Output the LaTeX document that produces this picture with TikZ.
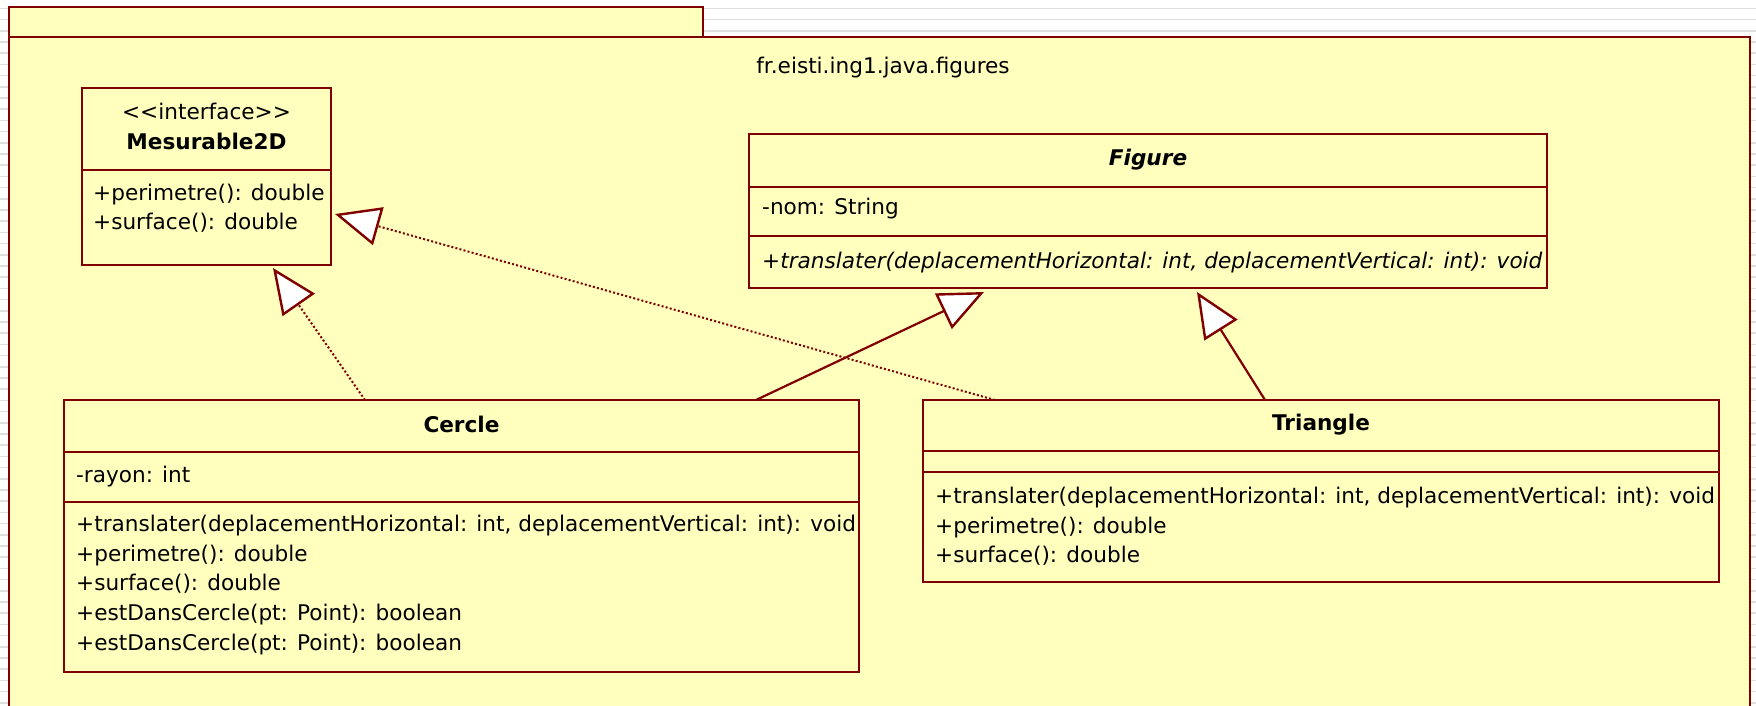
\documentclass[tikz,border=0pt]{standalone}
\usepackage{fontspec}
\setmainfont{DejaVu Sans}
\usetikzlibrary{arrows.meta}
\definecolor{umlfill}{RGB}{255,255,190}
\definecolor{umlline}{RGB}{128,0,0}
\definecolor{gridline}{RGB}{222,222,222}
\begin{document}
\begin{tikzpicture}[x=1pt,y=-1pt,
  box/.style={draw=umlline, fill=umlfill, line width=2.6pt, inner sep=0pt, outer sep=0pt, anchor=north west},
  sep/.style={draw=umlline, line width=2.4pt},
  txt/.style={inner sep=0pt, font=\fontsize{21.6}{26}\selectfont, anchor=west, text height=16pt, text depth=5pt},
  ttl/.style={txt, anchor=center, font=\fontsize{21.6}{26}\selectfont\bfseries},
  tip/.style={-{Triangle[length=45pt,width=39pt,fill=white,line width=2.4pt]}},
  real/.style={draw=umlline, line width=2pt, dash pattern=on 2pt off 2.2pt, tip},
  gen/.style={draw=umlline, line width=2.2pt, tip}
]
\useasboundingbox (0,0) rectangle (1756,705);
\clip (0,0) rectangle (1756,705);

% ruled background
\fill[white] (0,0) rectangle (1756,705);
\foreach \k in {0,...,63}
  \draw[gridline, line width=1.6pt] (0,{8.3+11.2*\k}) -- (1756,{8.3+11.2*\k});

% package frame
\node[box, minimum width=694pt, minimum height=30pt] (tab) at (9,7) {};
\node[box, minimum width=1741pt, minimum height=700pt] (pkg) at (9,37) {};
\node[txt, anchor=center] (pkgname) at (883,68) {fr.eisti.ing1.java.figures};

% interface Mesurable2D
\node[box, minimum width=249pt, minimum height=177pt] (mes) at (82,88) {};
\draw[sep] ([yshift=-82pt]mes.north west) -- ([yshift=-82pt]mes.north east);
\node[txt, anchor=center] (mesStereo) at (206.5,114) {<\kern0pt<interface>\kern0pt>};
\node[ttl] (mesName) at (206.5,144) {Mesurable2D};
\node[txt] (mesOpA) at (93,195) {+perimetre(): double};
\node[txt] (mesOpB) at (93,224) {+surface(): double};

% abstract class Figure
\node[box, minimum width=798pt, minimum height=154pt] (fig) at (749,134) {};
\draw[sep] ([yshift=-53pt]fig.north west) -- ([yshift=-53pt]fig.north east);
\draw[sep] ([yshift=-102pt]fig.north west) -- ([yshift=-102pt]fig.north east);
\node[ttl, font=\fontsize{21.6}{26}\selectfont\bfseries\itshape] (figName) at (1148,160) {Figure};
\node[txt] (figAttr) at (762,209) {-nom: String};
\node[txt, font=\fontsize{21.6}{26}\selectfont\itshape] (figOp) at (762,263) {+translater(deplacementHorizontal: int, deplacementVertical: int): void};

% class Cercle
\node[box, minimum width=795pt, minimum height=272pt] (cer) at (64,400) {};
\draw[sep] ([yshift=-52pt]cer.north west) -- ([yshift=-52pt]cer.north east);
\draw[sep] ([yshift=-102pt]cer.north west) -- ([yshift=-102pt]cer.north east);
\node[ttl] (cerName) at (461.5,427) {Cercle};
\node[txt] (cerAttr) at (76,477) {-rayon: int};
\node[txt] (cerOpA) at (76,526) {+translater(deplacementHorizontal: int, deplacementVertical: int): void};
\node[txt] (cerOpB) at (76,555.7) {+perimetre(): double};
\node[txt] (cerOpC) at (76,585.4) {+surface(): double};
\node[txt] (cerOpD) at (76,615.1) {+estDansCercle(pt: Point): boolean};
\node[txt] (cerOpE) at (76,644.8) {+estDansCercle(pt: Point): boolean};

% class Triangle
\node[box, minimum width=796pt, minimum height=182pt] (tri) at (923,400) {};
\draw[sep] ([yshift=-51pt]tri.north west) -- ([yshift=-51pt]tri.north east);
\draw[sep] ([yshift=-72pt]tri.north west) -- ([yshift=-72pt]tri.north east);
\node[ttl] (triName) at (1321,425) {Triangle};
\node[txt] (triOpA) at (935,498) {+translater(deplacementHorizontal: int, deplacementVertical: int): void};
\node[txt] (triOpB) at (935,527.5) {+perimetre(): double};
\node[txt] (triOpC) at (935,557) {+surface(): double};

% realizations and generalizations
\draw[real] ([xshift=301pt]cer.north west) -- ([xshift=191pt,yshift=-3pt]mes.south west);
\draw[real] ([xshift=72pt]tri.north west) -- ([xshift=4pt,yshift=51pt]mes.south east);
\draw[gen] ([xshift=692pt]cer.north west) -- ([xshift=235pt,yshift=-4pt]fig.south west);
\draw[gen] ([xshift=342pt]tri.north west) -- ([xshift=448pt,yshift=-4pt]fig.south west);
\end{tikzpicture}
\end{document}
